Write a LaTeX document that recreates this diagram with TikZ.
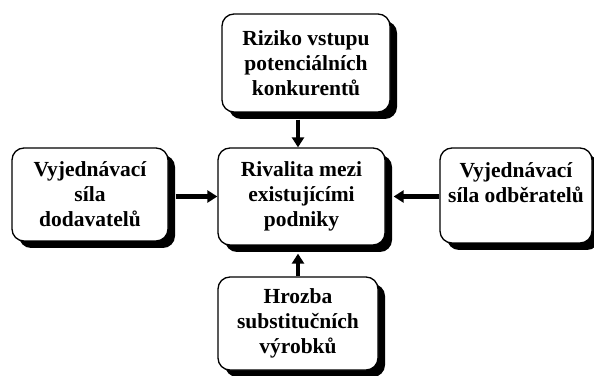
\documentclass[tikz,border=0pt]{standalone}
\usepackage{fontspec}
\setmainfont{Liberation Serif}
\usetikzlibrary{shadows,arrows.meta}
\begin{document}
\begin{tikzpicture}[x=1pt,y=1pt,
  force/.style={draw=black, line width=1.3pt, fill=white, rounded corners=12pt,
    align=center, font=\fontsize{21.5}{25}\selectfont\bfseries, inner sep=0pt,
    general shadow={fill=black, shadow xshift=7pt, shadow yshift=-7pt}},
  arr/.style={line width=4.5pt, -{Triangle[length=10pt,width=12pt]}}]
\useasboundingbox (0,0) rectangle (594,375);
\fill[white] (0,0) rectangle (594,375);
\node[force, minimum width=168pt, minimum height=98pt] (T) at (306,312)
  {Riziko vstupu\\potenciálních\\konkurentů};
\node[force, minimum width=156pt, minimum height=93pt] (L) at (90,180.5)
  {Vyjednávací\\síla\\dodavatelů};
\node[force, minimum width=167pt, minimum height=97pt] (C) at (301.5,178.5)
  {Rivalita mezi\\existujícími\\podniky};
\node[force, minimum width=152pt, minimum height=95pt] (R) at (516,179.5)
  {Vyjednávací\\síla odběratelů\\\mbox{}};
\node[force, minimum width=160pt, minimum height=93pt] (B) at (298,51.5)
  {Hrozba\\substitučních\\výrobků};
\draw[arr] ([yshift=-7pt]T.south -| B.north) -- (C.north -| B.north);
\draw[arr] ([xshift=7pt]L.east |- C.west) -- (C.west);
\draw[arr] (R.west |- C.east) -- ([xshift=8pt]C.east);
\draw[arr] (B.north) -- ([yshift=-8pt]C.south -| B.north);
\end{tikzpicture}
\end{document}
